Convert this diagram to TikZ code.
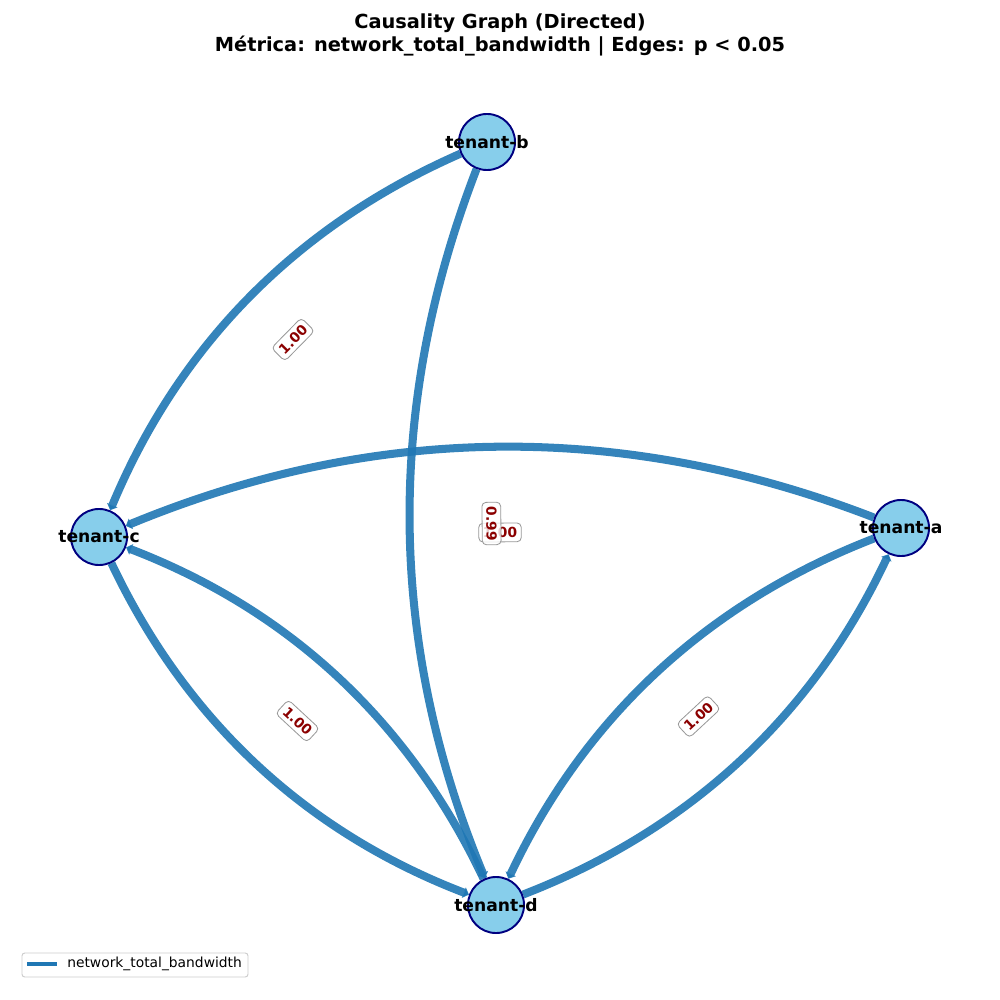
\documentclass[tikz,border=0pt]{standalone}
\usepackage{fontspec}
\setmainfont{DejaVu Sans}
\usetikzlibrary{arrows.meta,calc}
\definecolor{edgeblue}{HTML}{1F77B4}
\definecolor{nodefill}{HTML}{87CEEB}
\definecolor{nodeline}{HTML}{000080}
\definecolor{labelred}{HTML}{8B0000}
\pgfdeclarelayer{edges}
\pgfsetlayers{edges,main}
\begin{document}
\begin{tikzpicture}[x=0.7227pt,y=-0.7227pt,
  tenant/.style={circle,fill=nodefill,draw=nodeline,line width=1.4pt,minimum size=40.5pt,inner sep=0pt},
  tname/.style={font=\bfseries\fontsize{12.4}{14}\selectfont},
  causal/.style={draw=edgeblue,draw opacity=0.9,line width=5.8pt,-{Triangle[width=8pt,length=4pt]},bend right=21.8,looseness=0.917},
  wlabel/.style={draw=black!40,line width=0.6pt,fill=white,fill opacity=0.8,text opacity=1,rounded corners=3pt,inner sep=3pt,text=labelred,font=\bfseries\fontsize{10}{12}\selectfont},
  legendbox/.style={draw=black!20,line width=0.7pt,fill=white,rounded corners=2pt},
  legendline/.style={draw=edgeblue,line width=3pt}
]
\useasboundingbox (0,0) rectangle (1000,1000);
\node[font=\bfseries\fontsize{14}{16.8}\selectfont,align=center] (title) at (500,35) {Causality Graph (Directed)\\Métrica: network\_total\_bandwidth | Edges: p < 0.05};
\node[tenant,label={[tname]center:tenant-b}] (b) at (487,142) {};
\node[tenant,label={[tname]center:tenant-a}] (a) at (901,528) {};
\node[tenant,label={[tname]center:tenant-c}] (c) at (99,537) {};
\node[tenant,label={[tname]center:tenant-d}] (d) at (496,905) {};
\begin{pgfonlayer}{edges}
\draw[causal] (b) to (c);
\draw[causal] (a) to (c);
\draw[causal] (b) to (d);
\draw[causal] (c) to (d);
\draw[causal] (d) to (c);
\draw[causal] (a) to (d);
\draw[causal] (d) to (a);
\end{pgfonlayer}
\node[wlabel,rotate=45.5] (lbc) at ($(b)!0.5!(c)$) {1.00};
\node[wlabel,rotate=-42.8] (lcd) at ($(c)!0.5!(d)$) {1.00};
\node[wlabel,rotate=42.9] (lad) at ($(a)!0.5!(d)$) {1.00};
\node[wlabel,rotate=0.6] (lac) at ($(c)!0.5!(a)$) {1.00};
\node[wlabel,rotate=-89.3] (lbd) at ($(b)!0.5!(d)$) {0.99};
\draw[legendbox] (22,953) rectangle (248,977);
\coordinate (lg1) at (27,964);
\coordinate (lg2) at (57,964);
\draw[legendline] (lg1) -- (lg2);
\node[anchor=west,font=\fontsize{10}{12}\selectfont,inner sep=0pt] (legtext) at (67,964) {network\_total\_bandwidth};
\end{tikzpicture}
\end{document}
